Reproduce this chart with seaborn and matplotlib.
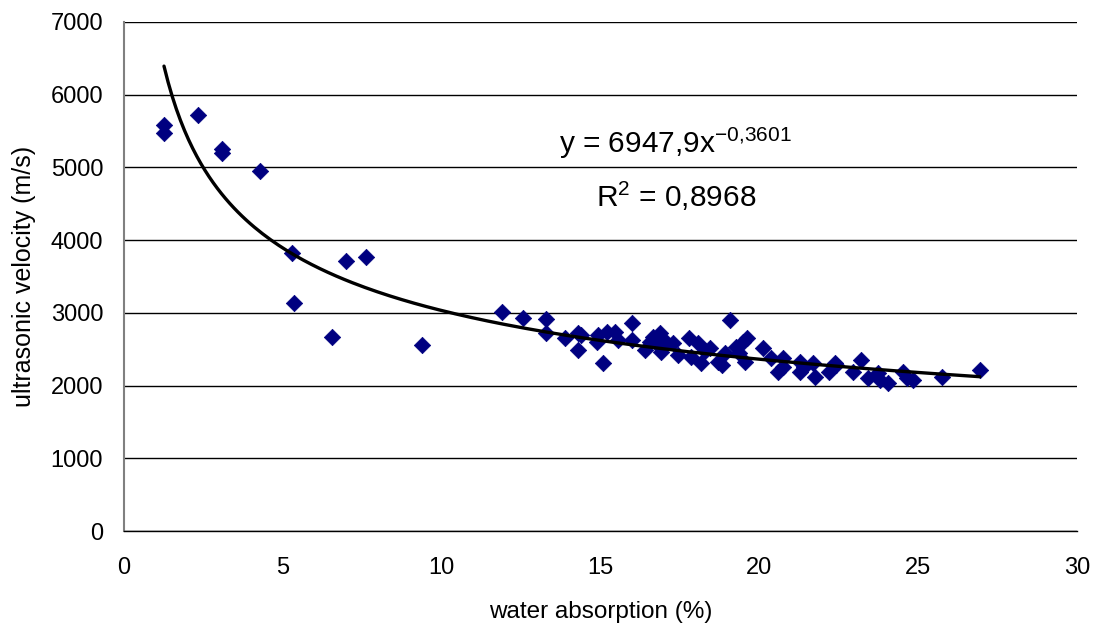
import numpy as np
import pandas as pd
import matplotlib
matplotlib.use("Agg")
import matplotlib.pyplot as plt
import seaborn as sns

# Measured samples: water absorption (%) and ultrasonic velocity (m/s)
water_absorption = [
    1.26, 1.26, 2.33, 3.08, 3.08, 4.28, 5.29, 5.35, 6.55, 6.99, 7.62, 9.38,
    11.89, 12.57, 13.27, 13.27, 13.88, 14.30, 14.30, 14.40, 14.88, 14.93,
    15.09, 15.20, 15.45, 15.55, 15.98, 15.98, 16.40, 16.55, 16.66, 16.80,
    16.87, 16.92, 17.05, 17.29, 17.45, 17.80, 17.85, 18.08, 18.18, 18.30,
    18.44, 18.70, 18.81, 18.92, 19.07, 19.28, 19.35, 19.50, 19.60, 19.55,
    20.12, 20.38, 20.60, 20.75, 20.75, 21.28, 21.28, 21.40, 21.70, 21.75,
    22.20, 22.38, 22.40, 22.95, 23.21, 23.43, 23.74, 23.80, 24.06, 24.53,
    24.64, 24.85, 25.74, 26.94,
]
ultrasonic_velocity = [
    5590, 5475, 5720, 5260, 5205, 4950, 3823, 3136, 2668, 3713, 3768, 2558,
    3016, 2934, 2912, 2728, 2659, 2718, 2489, 2690, 2604, 2696,
    2306, 2741, 2741, 2626, 2856, 2626, 2489, 2600, 2672, 2560,
    2718, 2466, 2604, 2581, 2420, 2650, 2397, 2581, 2306, 2470,
    2512, 2330, 2283, 2443, 2902, 2535, 2443, 2600, 2650, 2328,
    2512, 2374, 2191, 2374, 2260, 2328, 2191, 2260, 2306, 2122,
    2191, 2306, 2283, 2191, 2352, 2099, 2168, 2076, 2031, 2191,
    2099, 2076, 2122, 2214,
]

# Power-law trend fitted to the samples
fit_coef = 6947.9
fit_exp = -0.3601
fit_r2 = 0.8968

df = pd.DataFrame({"wa": water_absorption, "v": ultrasonic_velocity})
trend_x = np.linspace(min(water_absorption), max(water_absorption), 200)
trend = pd.DataFrame({"wa": trend_x, "v": fit_coef * trend_x ** fit_exp})

sns.set_style("white")
plt.rcParams["font.family"] = ["Liberation Sans", "DejaVu Sans"]
plt.rcParams["mathtext.fontset"] = "custom"
plt.rcParams["mathtext.rm"] = "Liberation Sans"
plt.rcParams["mathtext.default"] = "regular"
plt.rcParams["axes.unicode_minus"] = False
plt.rcParams["text.color"] = "black"
plt.rcParams["axes.labelcolor"] = "black"

fig = plt.figure(figsize=(11.03, 6.25), dpi=100)
ax = fig.add_axes([0.1124, 0.1504, 0.8640, 0.8144])

sns.scatterplot(data=df, x="wa", y="v", marker="D", s=70, color="#000080",
                edgecolor="#000080", linewidth=0.5, ax=ax, zorder=3)
sns.lineplot(data=trend, x="wa", y="v", color="black", linewidth=2.4,
             ax=ax, zorder=4)

ax.set_xlim(0, 30)
ax.set_ylim(0, 7000)
ax.set_xticks(range(0, 31, 5))
ax.set_yticks(range(0, 7001, 1000))
ax.yaxis.grid(True, color="black", linewidth=1.0)
ax.xaxis.grid(False)
ax.set_axisbelow(True)

for side in ("top", "right"):
    ax.spines[side].set_visible(False)
ax.spines["left"].set_color("#808080")
ax.spines["left"].set_linewidth(1.5)
ax.spines["bottom"].set_color("black")
ax.spines["bottom"].set_linewidth(1.0)

ax.tick_params(axis="both", which="major", direction="out", length=5,
               width=1, labelsize=17, colors="black")
ax.tick_params(axis="y", pad=10)
ax.tick_params(axis="x", pad=14)

ax.set_xlabel("water absorption (%)", fontsize=17.5, va="center")
ax.set_ylabel("ultrasonic velocity (m/s)", fontsize=18, va="center")
ax.xaxis.set_label_coords(0.5, -0.159)
ax.yaxis.set_label_coords(-0.105, 0.5)

exp_txt = f"{fit_exp:.4f}".replace(".", "{,}")
coef_txt = f"{fit_coef:.1f}".replace(".", ",")
r2_txt = f"{fit_r2:.4f}".replace(".", ",")
ax.text(17.37, 5199, f"y = {coef_txt}x$^{{{exp_txt}}}$", fontsize=21.5,
        ha="center", va="baseline")
ax.text(17.37, 4456, f"R$^{{2}}$ = {r2_txt}", fontsize=21.5,
        ha="center", va="baseline")

fig.savefig("out.png", dpi=100)
